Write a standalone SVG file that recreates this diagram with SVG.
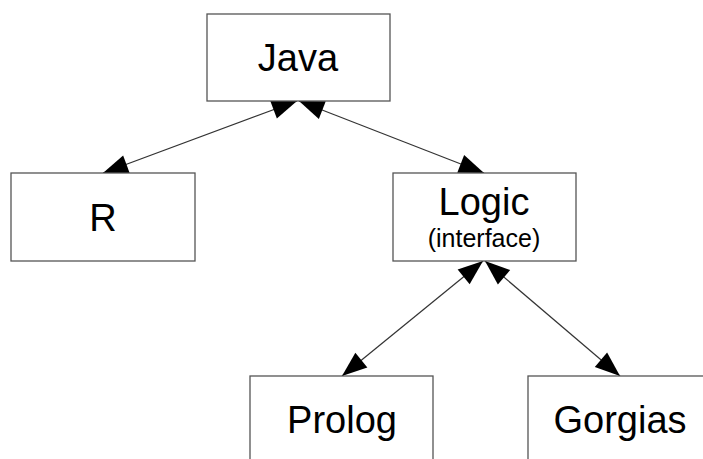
<svg xmlns="http://www.w3.org/2000/svg" width="703" height="459" viewBox="0 0 703 459">
<style>
.box{fill:#fff;stroke:#555;stroke-width:1.3}
.t{font-family:"Liberation Sans",Arial,sans-serif;font-size:38px;fill:#000;text-anchor:middle}
.s{font-size:25px}
.c{stroke:#333;stroke-width:1.2;fill:none}
.h{fill:#000;stroke:none}
</style>
<rect width="703" height="459" fill="#fff"/>
<g id="connectors">
<line class="c" x1="297" y1="101" x2="103" y2="173"/>
<polygon class="h" points="103,173 129.75,173.21 123.13,155.39"/>
<polygon class="h" points="297,101 276.87,118.61 270.25,100.79"/>
<line class="c" x1="299" y1="101" x2="484" y2="173"/>
<polygon class="h" points="484,173 457.25,172.78 464.15,155.08"/>
<polygon class="h" points="299,101 318.85,118.92 325.75,101.22"/>
<line class="c" x1="483" y1="261" x2="342" y2="376"/>
<polygon class="h" points="342,376 367.37,367.56 355.37,352.84"/>
<polygon class="h" points="483,261 469.63,284.16 457.63,269.44"/>
<line class="c" x1="485" y1="261" x2="620" y2="376"/>
<polygon class="h" points="620,376 594.81,367.02 607.13,352.56"/>
<polygon class="h" points="485,261 497.87,284.44 510.19,269.98"/>
</g>
<g id="java">
<rect class="box" x="207" y="14" width="183" height="87"/>
<text class="t" x="298" y="71">Java</text>
</g>
<g id="r">
<rect class="box" x="11" y="173" width="184" height="88"/>
<text class="t" x="103" y="231">R</text>
</g>
<g id="logic">
<rect class="box" x="393" y="173" width="183" height="88"/>
<text class="t" x="484" y="215">Logic</text>
<text class="t s" x="484" y="247">(interface)</text>
</g>
<g id="prolog">
<rect class="box" x="250" y="376" width="183" height="100"/>
<text class="t" x="342" y="433">Prolog</text>
</g>
<g id="gorgias">
<rect class="box" x="528" y="376" width="183" height="100"/>
<text class="t" x="620" y="433">Gorgias</text>
</g>
</svg>
